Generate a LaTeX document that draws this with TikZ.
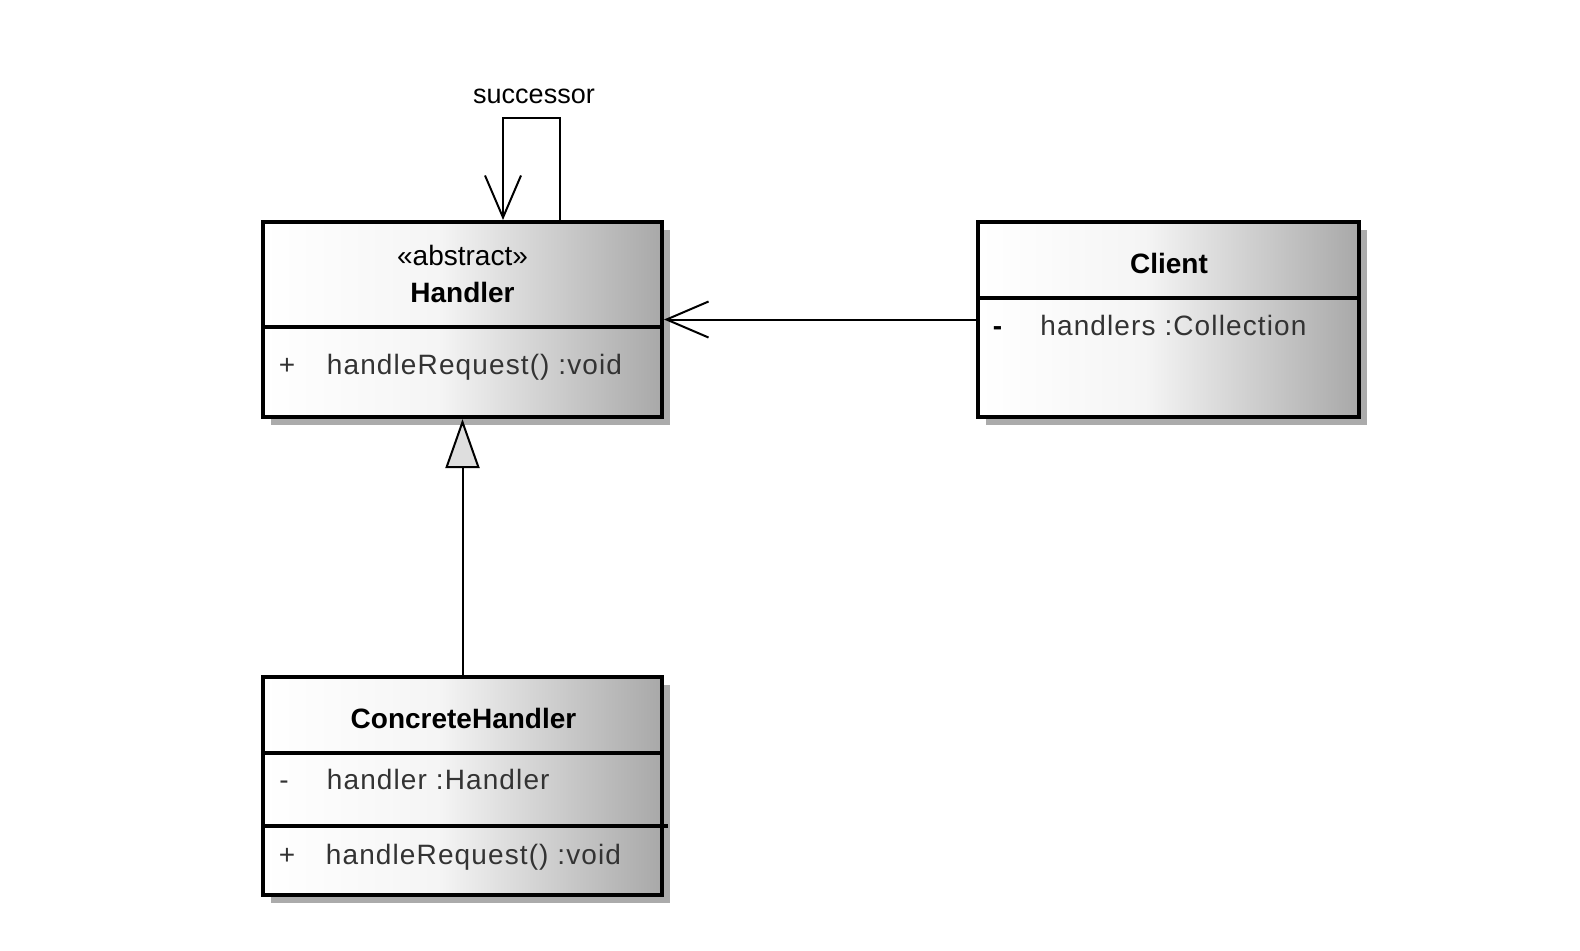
\documentclass[tikz,border=0pt]{standalone}
\usepackage{fontspec}
\setmainfont{Liberation Sans}
\newfontfamily\memberfont[LetterSpace=4]{Liberation Sans}
\usetikzlibrary{arrows.meta,shadows}
\definecolor{membergray}{HTML}{333333}
\pgfdeclarehorizontalshading{classfill}{100bp}{color(0bp)=(white); color(25bp)=(white); color(47bp)=(white!96!black); color(75bp)=(black!34); color(100bp)=(black!34)}

\begin{document}
\begin{tikzpicture}[x=0.5pt,y=-0.5pt]
	\tikzstyle{class}=[draw, line width=2pt, shading=classfill, inner sep=0pt, drop shadow={shadow xshift=4pt, shadow yshift=-4pt, fill=black!33, opacity=1}]
	\tikzstyle{title}=[inner sep=0pt, font=\fontsize{14}{17}\selectfont]
	\tikzstyle{member}=[inner sep=0pt, anchor=west, text=membergray, font=\fontsize{14}{17}\selectfont\memberfont]
	\tikzstyle{vis}=[inner sep=0pt, anchor=base, text=membergray, font=\fontsize{14}{17}\selectfont]
	\tikzstyle{divider}=[line width=1.75pt]
	\tikzstyle{assoc}=[line width=1pt, -{Straight Barb[length=21pt, width=18pt, line width=1pt]}]
	\tikzstyle{inherit}=[line width=1pt, -{Triangle[length=24.5pt, width=17pt, fill=black!13, line width=1pt]}]
	\useasboundingbox (0,0) rectangle (1580,950);
	\node [class, minimum width=199.5pt, minimum height=97.5pt] (handler) at (462.5,319.5) {};
	\node [class, minimum width=190.5pt, minimum height=97.5pt] (client) at (1168.5,319.5) {};
	\node [class, minimum width=199.5pt, minimum height=109pt] (concrete) at (462.5,786) {};
	\draw [divider] (handler.west |- 0,327) -- (handler.east |- 0,327);
	\draw [divider] (client.west |- 0,298) -- (client.east |- 0,298);
	\draw [divider] (concrete.west |- 0,753) -- (concrete.east |- 0,753);
	\draw [divider] (concrete.west |- 0,826) -- ([xshift=2pt]concrete.east |- 0,826);
	\node [title] (abstract) at (462.5,255) {«abstract»};
	\node [title, font=\fontsize{14}{17}\selectfont\bfseries] (handlername) at (462.5,292) {Handler};
	\node [member] (handlerop) at (326.5,367.5) {handleRequest() :void};
	\node [vis] (handleropvis) at (handlerop.base -| 287,0) {+};
	\node [title, font=\fontsize{14}{17}\selectfont\bfseries] (clientname) at (1169,263) {Client};
	\node [member] (clientattr) at (1040,325.5) {handlers :Collection};
	\node [vis, text=black, font=\fontsize{14}{17}\selectfont\bfseries] (clientattrvis) at (clientattr.base -| 997.5,0) {-};
	\node [title, font=\fontsize{14}{17}\selectfont\bfseries] (concretename) at (463.5,718.5) {ConcreteHandler};
	\node [member] (concreteattr) at (326.5,779) {handler :Handler};
	\node [vis] (concreteattrvis) at (concreteattr.base -| 284,0) {-};
	\node [member] (concreteop) at (325.5,857.5) {handleRequest() :void};
	\node [vis] (concreteopvis) at (concreteop.base -| 287,0) {+};
	\node [title, font=\fontsize{13.5}{16}\selectfont] (successor) at (534,96) {successor};
	\draw [assoc] (client.west) -- (handler.east);
	\draw [assoc] ([xshift=48.75pt]handler.north) -- ++(0pt,51pt) -| ([xshift=20.25pt]handler.north);
	\draw [inherit] (concrete.north) -- (handler.south);
\end{tikzpicture}
\end{document}
